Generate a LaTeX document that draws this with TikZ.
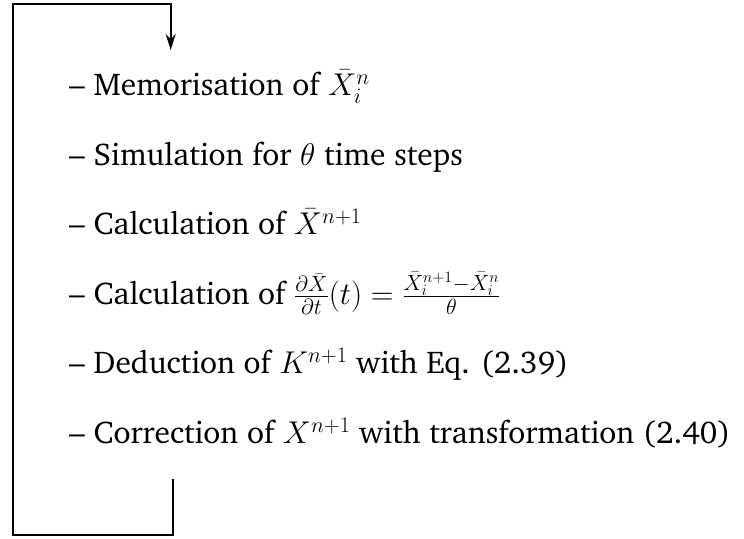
\RequirePackage{fix-cm}
\documentclass[tikz,border=0pt]{standalone}
\usepackage[T1]{fontenc}
\usepackage{charter}
\usetikzlibrary{arrows.meta}
\begin{document}
\begin{tikzpicture}[x=1pt,y=-1pt,
  loopline/.style={line width=1.8pt, line join=miter},
  item/.style={anchor=base west, inner sep=0pt, font=\fontsize{31.5}{38}\selectfont}]
\useasboundingbox (0,0) rectangle (744,538);
\node[item] (m1) at (69,95.5) {-- Memorisation of $\bar X_i^n$};
\node[item] (m2) at (69,165) {-- Simulation for $\theta$ time steps};
\node[item] (m3) at (69,234.5) {-- Calculation of $\bar X^{n+1}$};
\node[item] (m4) at (69,304) {-- Calculation of $\frac{\partial\bar X}{\partial t}(t)=\frac{\bar X_i^{n+1}-\bar X_i^n}{\theta}$};
\node[item] (m5) at (69,373.5) {-- Deduction of $K^{n+1}$ with Eq. (2.39)};
\node[item] (m6) at (69,443.5) {-- Correction of $X^{n+1}$ with transformation (2.40)};
\coordinate (a) at (172.7,479);
\coordinate (b) at (172.7,535);
\coordinate (c) at (12.7,535);
\coordinate (d) at (12.7,4);
\coordinate (e) at (170.7,4);
\coordinate (f) at (170.7,50);
\draw[loopline,-{Stealth[length=16pt,width=10pt]}] (a) -- (b) -- (c) -- (d) -- (e) -- (f);
\end{tikzpicture}
\end{document}
